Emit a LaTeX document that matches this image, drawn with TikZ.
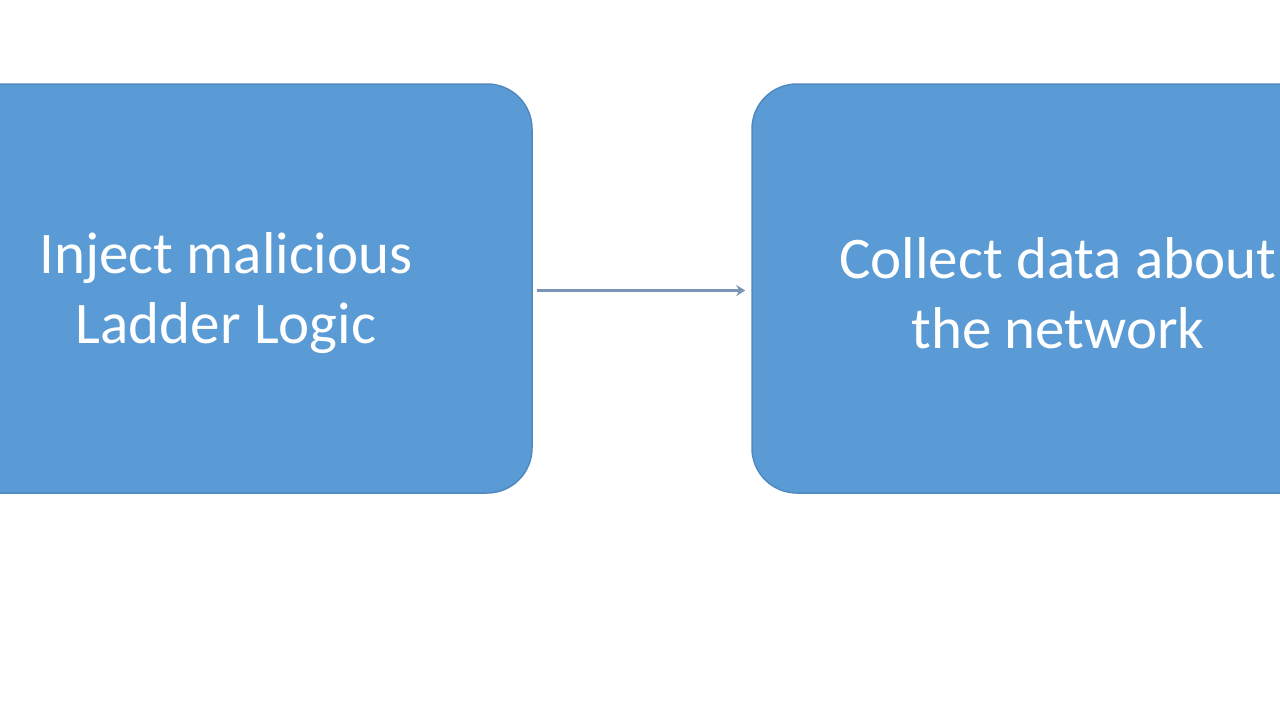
\documentclass[tikz,border=0pt]{standalone}
\usepackage{fontspec}
\setmainfont{Carlito}
\usetikzlibrary{arrows.meta}
\definecolor{boxfill}{HTML}{5B9BD5}
\definecolor{boxedge}{HTML}{5088C0}
\definecolor{arrowc}{HTML}{7B95B5}
\begin{document}
\begin{tikzpicture}[x=1pt,y=-1pt,
  stepbox/.style={fill=boxfill, draw=boxedge, line width=1.5pt, rounded corners=45pt,
    minimum width=612pt, minimum height=409pt, inner sep=0pt},
  steptext/.style={text=white, align=center, font=\fontsize{59}{70}\selectfont, yshift=-5pt},
  conn/.style={arrowc, line width=3pt, -{Stealth[length=9pt,width=11pt]}}]
\useasboundingbox (0,0) rectangle (1280,720);
\fill[white] (0,0) rectangle (1280,720);
\node[stepbox, label={[steptext]center:{Inject malicious\\Ladder Logic}}] (a) at (226,288.5) {};
\node[stepbox, label={[steptext]center:{Collect data about\\the network}}] (b) at (1058,288.5) {};
\path (a.east) ++(4,2) coordinate (s);
\path (b.west |- s) ++(-6,0) coordinate (e);
\draw[conn] (s) -- (e);
\end{tikzpicture}
\end{document}
